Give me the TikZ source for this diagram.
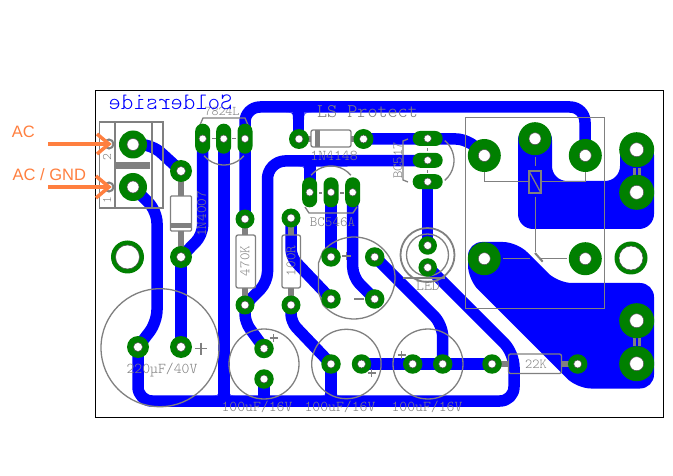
\documentclass[tikz,border=0pt]{standalone}
\usepackage{fontspec}
\usetikzlibrary{arrows.meta}
\newfontfamily\pcbfont{Latin Modern Mono Light}
\setmainfont{Liberation Sans}
\definecolor{silk}{RGB}{128,128,128}
\definecolor{copper}{RGB}{0,0,255}
\definecolor{padgreen}{RGB}{0,128,0}
\definecolor{note}{RGB}{255,127,63}
\tikzset{
  trace/.style={draw=copper,line width=11.5pt,line join=round,line cap=round},
  outline/.style={draw=silk,line width=1.3pt},
  leadwire/.style={draw=silk,line width=6pt},
  silkfill/.style={fill=silk},
  silktext/.style={text=silk,inner sep=0pt,font=\pcbfont\fontsize{#1}{#1}\selectfont},
  silktext/.default=15,
  padbase/.style={circle,fill=padgreen,inner sep=0pt,minimum size=#1},
  holebase/.style={circle,fill=white,draw=black!70,line width=.5pt,inner sep=0pt,minimum size=#1},
  ovalv/.style={rounded corners=7.4pt,fill=padgreen},
  callout/.style={draw=note,line width=3.5pt},
  calltext/.style={text=note,inner sep=0pt,font=\fontsize{16.5}{16.5}\selectfont},
}
\newcommand\PCBpad[5]{\node[padbase=#4pt] (#1) at (#2,#3) {}; \node[holebase=#5pt] (#1h) at (#2,#3) {};}
\newcommand\OvalV[3]{\fill[ovalv] (#2-7.5,#3-15) rectangle (#2+7.5,#3+15); \node[holebase=7.5pt] (#1) at (#2,#3) {};}
\newcommand\OvalH[3]{\fill[ovalv] (#2-15,#3-7.5) rectangle (#2+15,#3+7.5); \node[holebase=7.5pt] (#1) at (#2,#3) {};}
\newcommand\Fillet[5]{\fill[copper] (#1,#2) -- ({#1+(#3)*(#5)},#2) .. controls (#1,#2) .. (#1,{#2+(#4)*(#5)}) -- cycle;}
\begin{document}
\begin{tikzpicture}[x=1pt,y=-1pt]
\useasboundingbox (0,0) rectangle (673,476);
\fill[white] (0,0) rectangle (673,476);
% copper polygons
\fill[copper,rounded corners=15pt] (518,125) -- (518,229) -- (654,229) -- (654,140) -- (620,140) -- (620,181) -- (552,181) -- (552,125) -- cycle;
\fill[copper,rounded corners=14pt] (468,242) -- (468,279.5) -- (577,388.5) -- (654,388.5) -- (654,283) -- (558,283) -- (517,242) -- cycle;
% traces
\draw[trace,rounded corners=12pt] (133,144.5) -- (152,144.5) -- (181,171);
\draw[trace,rounded corners=12pt] (133,187) -- (157,211) -- (157,322) -- (138,347);
\draw[trace] (181,257) -- (181,347);
\draw[trace,rounded corners=10pt] (181,257) -- (202.7,235) -- (202.7,138.7);
\draw[trace] (224,138.7) -- (224,401);
\draw[trace,rounded corners=15pt] (245,219) -- (245,107) -- (585,107) -- (585,156);
\draw[trace] (298.7,107) -- (298.7,139);
\draw[trace,rounded corners=12pt] (363,139) -- (468,139) -- (484,156);
\draw[trace,rounded corners=10pt] (245,305) -- (267.5,282) [rounded corners=18pt] -- (267.5,161) -- (427.7,160.5);
\draw[trace,rounded corners=8pt] (245,305) -- (245,322) -- (264,348);
\draw[trace,rounded corners=8pt] (291,218) -- (291,257) -- (331,299);
\draw[trace,rounded corners=8pt] (291,305) -- (291,322) -- (331,364);
\draw[trace] (331,364) -- (331,401);
\draw[trace] (361,364) -- (492,364);
\draw[trace,rounded corners=12pt] (442.7,364) -- (442.7,324.7) -- (375,257);
\draw[trace] (427.7,182) -- (427.7,245);
\draw[trace,rounded corners=14pt] (428,267) -- (514,353) -- (514,401) -- (138,401) -- (138,347);
\draw[trace] (310,161) -- (310,192);
\draw[trace] (331,192) -- (331,257);
\draw[trace,rounded corners=10pt] (352.7,192) -- (352.7,277) -- (374.7,299);
\draw[trace] (264,379) -- (264,401);
\Fillet{293}{112.7}{-1}{1}{7}
\Fillet{304.4}{112.7}{1}{1}{7}
\Fillet{218.3}{395.3}{-1}{-1}{5}
\Fillet{229.7}{395.3}{1}{-1}{5}
\Fillet{325.3}{395.3}{-1}{-1}{4}
\Fillet{336.7}{395.3}{1}{-1}{4}
\Fillet{304.3}{166.7}{-1}{1}{6}
% board frame
\draw[black,line width=1pt] (95.5,90.5) rectangle (663.3,417.3);
% terminal block
\draw[outline] (99.5,122) rectangle (163,208);
\draw[outline] (115,122) -- (115,208);
\draw[outline] (152,122) -- (152,208);
\fill[silkfill] (116,162) rectangle (150,169);
\node[circle,draw=silk,line width=2pt,minimum size=9pt,inner sep=0pt] (pinA) at (109,144) {};
\node[circle,draw=silk,line width=2pt,minimum size=9pt,inner sep=0pt] (pinB) at (109,187) {};
\node[silktext=13,rotate=90] (t2) at (107,157) {2};
\node[silktext=13,rotate=90] (t1) at (107,200) {1};
% 1N4007
\draw[leadwire] (181,171) -- (181,196);
\draw[leadwire] (181,231) -- (181,257);
\draw[outline,rounded corners=1pt] (170.5,196) rectangle (191.5,231);
\fill[silkfill] (170.5,223) rectangle (191.5,228);
\node[silktext=14.5,rotate=90] (d1) at (201.7,214) {1N4007};
% 7824L
\draw[outline] (224,139) ++(-140:26pt) arc[start angle=-140,end angle=-40,radius=26pt];
\draw[outline] (200,125) -- (203,118) -- (245,118) -- (248,125);
\draw[outline] (212,138.7) -- (216,138.7);
\draw[outline] (232,138.7) -- (236,138.7);
\node[silktext=13.3] (u1) at (222,111.5) {7824L};
% LS Protect
\node[silktext=19.2] (ls) at (367.5,111.5) {LS Protect};
% Solderside
\node[text=copper,inner sep=0pt,font=\pcbfont\fontsize{23.6}{23.6}\selectfont,xscale=-1] (sol) at (170.5,102) {Solderside};
% 1N4148
\draw[leadwire] (299,139) -- (311,139);
\draw[leadwire] (351,139) -- (363.5,139);
\draw[outline,fill=white,rounded corners=2pt] (311,130) rectangle (351,147);
\fill[silkfill] (315,130) rectangle (320,147);
\node[silktext=15] (d2) at (334,156) {1N4148};
% BC517
\draw[outline] (428,160.5) ++(50:26pt) arc[start angle=50,end angle=-50,radius=26pt];
\draw[outline] (408,139) -- (403,141) -- (403,180) -- (408,182);
\draw[outline] (427.7,148) -- (427.7,151);
\draw[outline] (427.7,170) -- (427.7,173);
\node[silktext=14,rotate=90] (q1) at (397.7,160.5) {BC517};
% BC546A
\draw[outline] (331,192) ++(140:26pt) arc[start angle=140,end angle=40,radius=26pt];
\draw[outline] (305,207) -- (309,213) -- (353,213) -- (357,207);
\draw[outline] (319,193) -- (322,193);
\draw[outline] (340,193) -- (344,193);
\node[silktext=14.3] (q2) at (332.5,222.5) {BC546A};
% LED
\draw[draw=silk,line width=1.8pt] (427.5,255) circle[radius=27pt];
\draw[draw=silk,line width=1.3pt] (427.5,255) circle[radius=21pt];
\draw[draw=silk,line width=1.8pt] (403,277.7) -- (445,277.7);
\node[silktext=15] (led) at (428,285.7) {LED};
% resistors
\draw[leadwire] (245,219) -- (245,235);
\draw[leadwire] (245,288) -- (245,305);
\draw[outline,rounded corners=2pt] (236,235) rectangle (255.5,288);
\node[silktext=14.3,rotate=90] (r1) at (245,261) {470K};
\draw[leadwire] (291,218) -- (291,235);
\draw[leadwire] (291,288) -- (291,305);
\draw[outline,rounded corners=2pt] (282,235) rectangle (300.5,288);
\node[silktext=14.3,rotate=90] (r2) at (291,261) {100R};
\draw[leadwire] (492,364) -- (508.5,364);
\draw[leadwire] (561.5,364) -- (578,364);
\draw[outline,rounded corners=2pt] (508.5,354) rectangle (561.5,373.5);
\node[silktext=13.7] (r3) at (536,364) {22K};
% capacitors
\draw[outline] (160,347.7) circle[radius=59pt];
\node[silktext=15] (c1) at (162,370) {220µF/40V};
\draw[outline] (201,348.7) +(-6,0) -- +(6,0) +(0,-6) -- +(0,6);
\draw[outline] (264,364) circle[radius=35pt];
\node[silktext=15] (c2) at (257,407) {100uF/16V};
\draw[outline] (273.5,338) +(-4,0) -- +(4,0) +(0,-4) -- +(0,4);
\draw[outline] (346.4,364) circle[radius=34.7pt];
\node[silktext=15] (c3) at (340,407) {100uF/16V};
\draw[outline] (371.7,373) +(-4,0) -- +(4,0) +(0,-4) -- +(0,4);
\draw[outline] (428,364) circle[radius=35pt];
\node[silktext=15] (c4) at (427,407) {100uF/16V};
\draw[outline] (401.7,355) +(-4,0) -- +(4,0) +(0,-4) -- +(0,4);
\draw[outline] (354,278) ++(139:41pt) arc[start angle=139,end angle=-139,radius=41pt];
\draw[outline] (323,251) -- (318.5,263) -- (318.5,292) -- (323,305);
\draw[outline] (342,256) -- (351,256) (346.5,252) -- (346.5,260);
\draw[outline] (354,299) -- (364,299);
% relay
\draw[outline] (465.5,117.5) rectangle (604.3,308.3);
\draw[draw=silk,line width=2.5pt] (529,171) rectangle (541,193);
\draw[outline] (529,171) -- (541,193);
\draw[outline] (535.3,157) -- (535.3,165.7);
\draw[outline] (535.3,196.7) -- (535.3,251.7);
\draw[outline] (484.3,172) -- (484.3,181.7) -- (529,181.7);
\draw[outline] (541,181.7) -- (585.3,181.7) -- (585.3,172);
\draw[outline] (503,258.3) -- (530,258.3);
\draw[outline] (540,258.3) -- (566.7,258.3);
\draw[draw=silk,line width=2pt] (535,253) -- (542.7,261.7);
% screw terminal bridges
\draw[draw=silk,line width=2.6pt] (634.3,168) -- (634.3,176);
\draw[draw=silk,line width=2.6pt] (639.7,168) -- (639.7,176);
\draw[draw=silk,line width=2.6pt] (634.3,338) -- (634.3,346);
\draw[draw=silk,line width=2.6pt] (639.7,338) -- (639.7,346);
% pads
\PCBpad{ja}{133}{144.5}{28}{12}
\PCBpad{jb}{133}{187}{28}{12}
\PCBpad{da}{181}{171}{22}{9}
\PCBpad{db}{181}{257}{22}{9}
\PCBpad{ca}{138}{347}{22}{9}
\PCBpad{cb}{181}{347}{22}{9}
\PCBpad{ra}{245}{219}{19}{8}
\PCBpad{rb}{245}{305}{19}{8}
\PCBpad{rc}{291}{218}{19}{8}
\PCBpad{rd}{291}{305}{19}{8}
\PCBpad{na}{299}{139}{20}{8}
\PCBpad{nb}{363.5}{139}{20}{8}
\PCBpad{la}{427.7}{245.5}{18.5}{8}
\PCBpad{lb}{427.7}{267.5}{18.5}{8}
\PCBpad{ea}{264}{348.5}{19.5}{8}
\PCBpad{eb}{264}{379}{19.5}{8}
\PCBpad{fa}{331}{257}{19.5}{8}
\PCBpad{fb}{374.7}{257}{19.5}{8}
\PCBpad{fc}{331}{299}{19.5}{8}
\PCBpad{fd}{374.7}{299}{19.5}{8}
\PCBpad{ga}{331}{364}{19.5}{8}
\PCBpad{gb}{361.5}{364}{19.5}{8}
\PCBpad{gc}{412.7}{364}{19.5}{8}
\PCBpad{gd}{442.7}{364}{19.5}{8}
\PCBpad{rx}{492}{364}{19.5}{8}
\PCBpad{ry}{577.7}{364}{19.5}{8}
\OvalV{ua}{202.7}{138.7}
\OvalV{ub}{223.7}{138.7}
\OvalV{uc}{245}{138.7}
\OvalV{qa}{309.7}{192.3}
\OvalV{qb}{331}{192.3}
\OvalV{qc}{352.7}{192.3}
\OvalH{pa}{427.7}{138.5}
\OvalH{pb}{427.7}{160.3}
\OvalH{pc}{427.7}{181.7}
\PCBpad{ka}{484.3}{155.5}{33}{12}
\PCBpad{kb}{535}{138.7}{33}{12}
\PCBpad{kc}{585.3}{155.5}{33}{12}
\PCBpad{kd}{484.3}{258.7}{33}{12}
\PCBpad{ke}{585.3}{258.7}{33}{12}
\PCBpad{sa}{636.7}{149.7}{35}{14}
\PCBpad{sb}{636.7}{192.3}{35}{14}
\PCBpad{sc}{636.7}{320.7}{35}{14}
\PCBpad{sd}{636.7}{363.7}{35}{14}
\PCBpad{ma}{127.5}{257}{33}{24}
\PCBpad{mb}{631}{258}{33}{24}
% callouts
\coordinate (acstart) at (48,144);
\coordinate (gndstart) at (48,187);
\draw[callout] (acstart) -- (pinA.center);
\draw[callout] (gndstart) -- (pinB.center);
\draw[callout] (pinA.center) +(-12,-10) -- +(0,0) -- +(-12,10);
\draw[callout] (pinB.center) +(-13,-11) -- +(0,0) -- +(-13,11);
\node[calltext] (lac) at (23.3,131.5) {AC};
\node[calltext] (lgnd) at (49.3,175) {AC / GND};
\end{tikzpicture}
\end{document}
